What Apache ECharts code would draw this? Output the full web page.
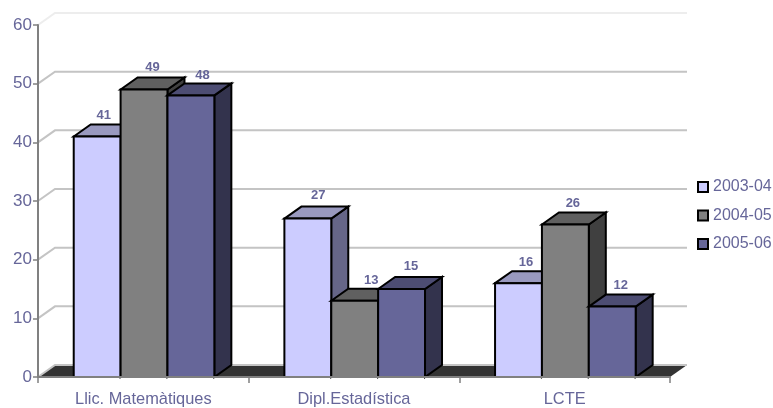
<!DOCTYPE html>
<html><head><meta charset="utf-8">
<style>html,body{margin:0;padding:0;background:#fff}#c{width:773px;height:408px}</style>
<script src="https://cdn.jsdelivr.net/npm/echarts@6/dist/echarts.min.js"></script>
</head><body><div id="c"></div>
<script>
const categories = ['Llic. Matemàtiques', 'Dipl.Estadística', 'LCTE'];
const s2003 = [41, 27, 16];
const s2004 = [49, 13, 26];
const s2005 = [48, 15, 12];
const seriesNames = ['2003-04', '2004-05', '2005-06'];
const yTicks = [0, 10, 20, 30, 40, 50, 60];

const TXT = '#666699', FONT = '"Liberation Sans", Arial, sans-serif';
const DX = 17, DY = 12;
const palette = [
  {front:'#CCCCFF', top:'#9999BF', side:'#666688'},
  {front:'#808080', top:'#606060', side:'#404040'},
  {front:'#666699', top:'#4D4D73', side:'#33334D'}
];
// small hand nudges of the value labels, series by category
const labelNudge = [
  [[-1,0],[3,-2],[0,0]],
  [[1,-1],[9,1],[0,0]],
  [[4,1],[2,-2],[1,0]]
];
const chart = echarts.init(document.getElementById('c'), null, {renderer:'canvas'});

function wallItem(params, api) {
  const v = api.value(0);
  const p0 = api.coord([0, v]);
  const w = api.size([1, 0])[0];
  const x = api.coord([0, 0])[0] - w / 2;
  const y = p0[1];
  const right = x + w * categories.length + DX;
  const col = v === 60 ? '#EDEDED' : '#C4C4C4';
  const children = [];
  if (v === 0) {
    children.push({type:'polygon', shape:{points:[[x,y],[x+DX,y-DY],[right,y-DY],[right-DX,y]]}, style:{fill:'#333333'}});
  }
  children.push({type:'polyline', shape:{points:[[x,y],[x+DX,y-DY],[right,y-DY]]}, style:{fill:null, stroke:col, lineWidth:2}});
  return {type:'group', children};
}

function barItem(idx) {
  return function (params, api) {
    const c = api.coord([api.value(0), api.value(1)]);
    const base = api.coord([api.value(0), 0]);
    const cw = api.size([1, 0])[0];
    const bw = cw * 0.2225;
    const x = c[0] - bw * 1.5 + bw * idx + 0.7;
    const yT = c[1], yB = base[1];
    const st = {stroke:'#000', lineWidth:2, lineJoin:'miter'};
    const pal = palette[idx];
    const n = labelNudge[idx][params.dataIndex];
    return {type:'group', children:[
      {type:'polygon', shape:{points:[[x+bw,yT],[x+bw+DX,yT-DY],[x+bw+DX,yB-DY],[x+bw,yB]]}, style:{fill:pal.side, ...st}},
      {type:'polygon', shape:{points:[[x,yT],[x+DX,yT-DY],[x+bw+DX,yT-DY],[x+bw,yT]]}, style:{fill:pal.top, ...st}},
      {type:'rect', shape:{x:x, y:yT, width:bw, height:yB-yT}, style:{fill:pal.front, ...st}},
      {type:'text', style:{text:String(api.value(1)), x:x+bw/2+DX/2-1+n[0], y:yT-DY-9+n[1], align:'center', verticalAlign:'middle', fill:TXT, font:'bold 13px '+FONT}}
    ]};
  };
}

const mk = (name, arr, idx) => ({
  name, type:'custom', z:3+idx, renderItem:barItem(idx),
  itemStyle:{color:palette[idx].front, borderColor:'#000', borderWidth:2},
  encode:{x:0, y:1},
  data:arr.map((v,i)=>[i,v])
});

chart.setOption({
  animation:false,
  backgroundColor:'#fff',
  grid:{left:38, right:103, top:25, bottom:31},
  xAxis:{type:'category', data:categories, boundaryGap:true,
    axisLine:{lineStyle:{color:'#808080', width:2}},
    axisTick:{show:true, length:6, lineStyle:{color:'#808080', width:1.5}},
    axisLabel:{color:TXT, fontFamily:FONT, fontSize:16.4, margin:14}, splitLine:{show:false}, z:10},
  yAxis:{type:'value', min:0, max:60, interval:10,
    axisLine:{show:true, lineStyle:{color:'#808080', width:2}},
    axisTick:{show:true, length:5, lineStyle:{color:'#808080', width:1.5}},
    axisLabel:{color:TXT, fontFamily:FONT, fontSize:17, margin:6}, splitLine:{show:false}, z:10},
  legend:{orient:'vertical', left:697, top:179, padding:0, itemWidth:10, itemHeight:10, itemGap:12.5, itemStyle:{borderWidth:2},
    icon:'rect', data:seriesNames, selectedMode:false,
    textStyle:{color:TXT, fontFamily:FONT, fontSize:16}},
  series:[
    {type:'custom', z:1, silent:true, renderItem:wallItem, encode:{y:0}, data:yTicks.map(v=>[v]), clip:false},
    mk(seriesNames[0], s2003, 0),
    mk(seriesNames[1], s2004, 1),
    mk(seriesNames[2], s2005, 2)
  ]
});
</script></body></html>
